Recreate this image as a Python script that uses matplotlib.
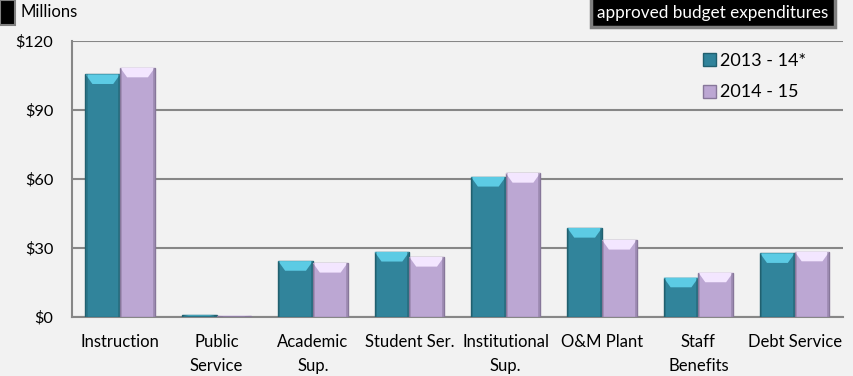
import numpy as np
import matplotlib.pyplot as plt
from matplotlib.patches import Polygon, Rectangle

categories = ['Instruction', 'Public\nService', 'Academic\nSup.', 'Student Ser.',
              'Institutional\nSup.', 'O&M Plant', 'Staff\nBenefits', 'Debt Service']
fy2014 = [105.5, 0.9, 24.3, 28.3, 60.9, 38.7, 17.1, 27.7]
fy2015 = [108.4, 0.6, 23.5, 26.1, 62.6, 33.5, 19.3, 28.4]
series = ['2013 - 14*', '2014 - 15']
yticks = [0, 30, 60, 90, 120]
ylabels = ['$0', '$30', '$60', '$90', '$120']

plt.rcParams['font.family'] = ['Lato', 'DejaVu Sans']
bg = '#f2f2f2'

fig = plt.figure(figsize=(8.54, 3.76), dpi=100, facecolor=bg)
ax = fig.add_axes([0.0843, 0.157, 0.9027, 0.734], facecolor=bg)

x = np.arange(len(categories))
w = 0.36
styles = [('#31849b', '#5ccbe4', '#21606f'), ('#bca7d3', '#f3e6ff', '#87779a')]

def bevel(ax, xs, vals, main, light, dark):
	for xc, v in zip(xs, vals):
		x0, x1 = xc - w/2, xc + w/2
		cap = min(4.2, v*0.35)
		inset = w*0.2
		ax.add_patch(Rectangle((x0, 0), w, v, fc=main, ec=dark, lw=1.0, zorder=3))
		ax.add_patch(Polygon([(x0, v), (x1, v), (x1-inset, v-cap), (x0+inset, v-cap)],
			closed=True, fc=light, ec='none', zorder=4))
		ax.add_patch(Rectangle((x0, 0), w*0.06, v, fc=dark, ec='none', alpha=0.35, zorder=4))
		ax.add_patch(Rectangle((x1-w*0.06, 0), w*0.06, v, fc=dark, ec='none', alpha=0.5, zorder=4))

bevel(ax, x - w/2, fy2014, *styles[0])
bevel(ax, x + w/2, fy2015, *styles[1])

ax.set_xlim(-0.5, len(categories)-0.5)
ax.set_ylim(0, 120)
ax.set_yticks(yticks)
ax.set_yticklabels(ylabels, fontsize=11.8)
ax.set_xticks(x)
ax.set_xticklabels(categories, fontsize=12, linespacing=1.65, va='top')
ax.tick_params(axis='x', length=0, pad=12)
ax.tick_params(axis='y', length=0, pad=13.5)
ax.grid(axis='y', color='#878787', lw=1.5, zorder=0)
for s in ['top', 'right']:
	ax.spines[s].set_visible(False)
for s in ['left', 'bottom']:
	ax.spines[s].set_color('#878787')
	ax.spines[s].set_linewidth(1.5)

handles = [Rectangle((0, 0), 1, 1, fc=styles[i][0], ec=styles[i][2]) for i in range(2)]
ax.legend(handles, series, loc='upper right', bbox_to_anchor=(0.973, 1.015), frameon=False,
	fontsize=13, handlelength=0.75, handleheight=0.75, handletextpad=0.2, labelspacing=0.85)

# header boxes
fig.patches.append(Rectangle((0, 1-25/376), 15/854, 25/376, transform=fig.transFigure,
	fc='black', ec='#808080', lw=1.5))
fig.text(20/854, 1-12/376, 'Millions', fontsize=12, va='center', ha='left')
fig.patches.append(Rectangle((591/854, 1-27/376), 244/854, 30/376, transform=fig.transFigure,
	fc='black', ec='#7f7f7f', lw=2.5))
fig.text(713/854, 1-13/376, 'approved budget expenditures', fontsize=12.3, color='white',
	va='center', ha='center')

fig.savefig('out.png', dpi=100, facecolor=bg)
